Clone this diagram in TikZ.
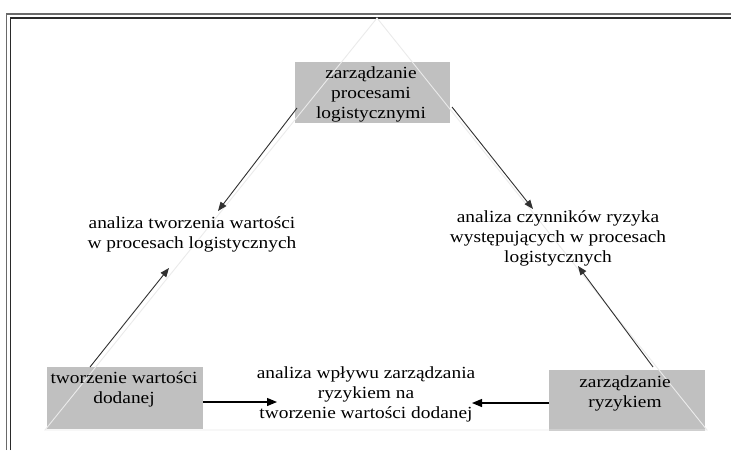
\documentclass[tikz,border=0pt]{standalone}
\usepackage{fontspec}
\setmainfont[FakeStretch=1.14]{Liberation Serif}
\usetikzlibrary{arrows.meta}
\definecolor{boxgray}{HTML}{C0C0C0}
\definecolor{edgegray}{HTML}{EBEBEB}
\definecolor{linkgray}{HTML}{303030}
\definecolor{frameout}{HTML}{6A6A6A}
\definecolor{framein}{HTML}{2A2A2A}
% centred multi-line text whose baseline is that of its first line
\newcommand\mlines[1]{\begin{tabular}[t]{@{}c@{}}#1\end{tabular}}
\begin{document}
\begin{tikzpicture}[x=1pt,y=-1pt,
  box/.style={fill=boxgray, inner sep=0pt, anchor=north west},
  lbl/.style={anchor=base, inner sep=0pt, font=\fontsize{17}{20}\selectfont},
  link/.style={draw=linkgray, line width=0.9pt, -{Triangle[length=9pt,width=7pt]}},
  flow/.style={draw=black, line width=1.2pt, -{Triangle[length=10pt,width=8pt]}},
  tri/.style={draw=edgegray, line width=0.9pt},
  frameA/.style={draw=frameout, line width=1.6pt},
  frameB/.style={draw=framein, line width=1.1pt}]
\useasboundingbox (0,0) rectangle (731,450);
\fill[white] (0,0) rectangle (731,450);

% double frame along the top and left
\draw[frameA] (6.5,450) -- (6.5,14) -- (731,14);
\draw[frameB] (10.5,450) -- (10.5,18) -- (731,18);

% grey boxes
\node[box, minimum width=155pt, minimum height=61pt] (top) at (295,62) {};
\node[box, minimum width=156pt, minimum height=62pt] (bl) at (47,367) {};
\node[box, minimum width=156pt, minimum height=61pt] (br) at (549,370) {};

% faint triangle joining the three boxes
\coordinate (apex) at (377,18);
\coordinate (left) at (45,430);
\coordinate (right) at (707,430);
\draw[tri] (apex) -- (left) -- (right) -- cycle;

% texts
\node[lbl] (ttop) at (371,78) {\mlines{zarządzanie\\procesami\\logistycznymi}};
\node[lbl] (tbl) at (124,383) {\mlines{tworzenie wartości\\dodanej}};
\node[lbl] (tbr) at (625,387) {\mlines{zarządzanie\\ryzykiem}};
\node[lbl] (value) at (192,228) {\mlines{analiza tworzenia wartości\\w procesach logistycznych}};
\node[lbl] (risk) at (558,222) {\mlines{analiza czynników ryzyka\\występujących w procesach\\logistycznych}};
\node[lbl] (impact) at (366,378) {\mlines{analiza wpływu zarządzania\\ryzykiem na\\tworzenie wartości dodanej}};

% connector ends
\coordinate (topL) at (297,108);
\coordinate (valueIn) at (218,211);
\coordinate (blUp) at (90,367);
\coordinate (valueUp) at (169,268);
\coordinate (topR) at (452,107);
\coordinate (riskIn) at (533,209);
\coordinate (brUp) at (653,367);
\coordinate (riskUp) at (578,266);
\coordinate (blOut) at (203,402);
\coordinate (impactL) at (277,402);
\coordinate (brOut) at (549,403);
\coordinate (impactR) at (472,403);

% arrows
\draw[link] (topL) -- (valueIn);
\draw[link] (blUp) -- (valueUp);
\draw[link] (topR) -- (riskIn);
\draw[link] (brUp) -- (riskUp);
\draw[flow] (blOut) -- (impactL);
\draw[flow] (brOut) -- (impactR);
\end{tikzpicture}
\end{document}
